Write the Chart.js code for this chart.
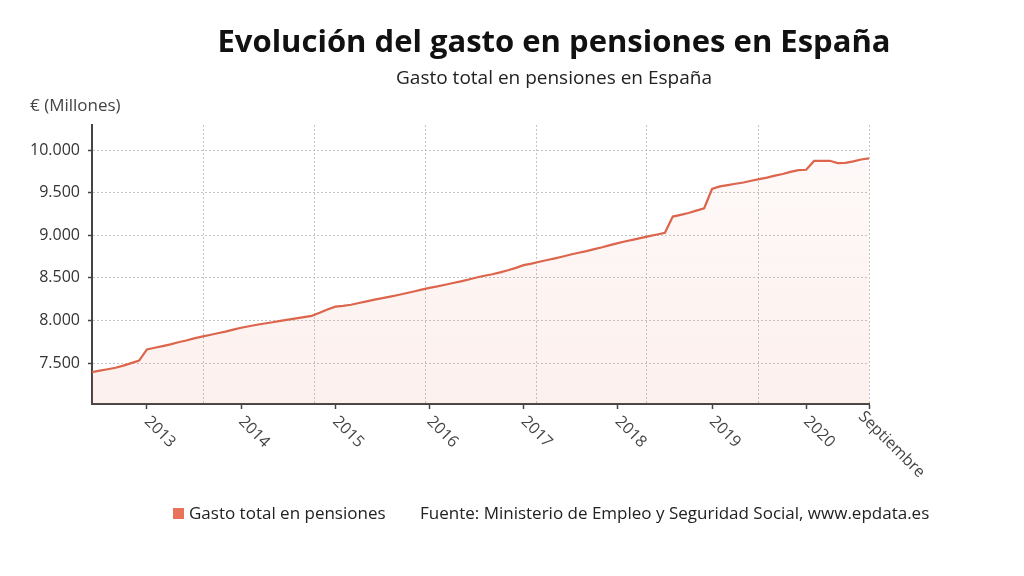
<!DOCTYPE html>
<html><head><meta charset="utf-8">
<script src="https://cdn.jsdelivr.net/npm/chart.js@4"></script>
<style>
html,body{margin:0;padding:0;width:1024px;height:576px;overflow:hidden;background:#fff;font-family:"Open Sans",sans-serif;}
#wrap{position:relative;width:1024px;height:576px;}
canvas{position:absolute;left:0;top:0;}
.t{position:absolute;white-space:nowrap;line-height:1;}
</style></head><body>
<div id="wrap">
<canvas id="c" width="1024" height="576"></canvas>
<div class="t" style="left:554px;top:25px;transform:translateX(-50%);font-size:31px;font-weight:700;color:#111;">Evolución del gasto en pensiones en España</div>
<div class="t" style="left:554px;top:68px;transform:translateX(-50%);font-size:19px;color:#222;">Gasto total en pensiones en España</div>
<div class="t" style="left:30px;top:96px;font-size:17px;color:#444;">€ (Millones)</div>
<div class="t" style="left:173px;top:504px;font-size:17px;color:#222;"><span style="display:inline-block;width:11px;height:11px;background:#e8735a;margin-right:5px;vertical-align:0px;"></span>Gasto total en pensiones</div>
<div class="t" style="left:420px;top:504px;font-size:17px;color:#222;">Fuente: Ministerio de Empleo y Seguridad Social, www.epdata.es</div>
</div>
<script>
// Monthly data, June 2012 - September 2020 (millions of euros)
const startYear = 2012, startMonth = 6;
const gasto2012 = [7394, 7412, 7428, 7445, 7470, 7500, 7530];
const gasto2013 = [7660, 7680, 7700, 7720, 7745, 7765, 7790, 7810, 7830, 7850, 7870, 7893];
const gasto2014 = [7915, 7933, 7950, 7965, 7980, 7995, 8010, 8025, 8040, 8055, 8090, 8130];
const gasto2015 = [8163, 8172, 8185, 8205, 8225, 8245, 8262, 8280, 8300, 8320, 8340, 8362];
const gasto2016 = [8383, 8400, 8420, 8440, 8460, 8482, 8505, 8525, 8543, 8565, 8590, 8618];
const gasto2017 = [8650, 8668, 8690, 8710, 8730, 8752, 8775, 8795, 8815, 8838, 8860, 8885];
const gasto2018 = [8908, 8930, 8950, 8970, 8990, 9010, 9030, 9220, 9240, 9262, 9290, 9318];
const gasto2019 = [9544, 9575, 9590, 9605, 9620, 9640, 9660, 9678, 9700, 9720, 9745, 9765];
const gasto2020 = [9770, 9873, 9875, 9875, 9848, 9850, 9868, 9890, 9904];

const xTickLabels = ['2013', '2014', '2015', '2016', '2017', '2018', '2019', '2020', 'Septiembre'];
const yTicks = [7500, 8000, 8500, 9000, 9500, 10000];
const yMin = 7020, yMax = 10295;
const xGridDivisions = 7;

const gasto = [].concat(gasto2012, gasto2013, gasto2014, gasto2015, gasto2016, gasto2017, gasto2018, gasto2019, gasto2020);
const months = gasto.map((_, i) => {
  const m = startMonth - 1 + i;
  return { year: startYear + Math.floor(m / 12), month: (m % 12) + 1 };
});
const lastIdx = gasto.length - 1;
// tick indices: each January, plus the last month
const xTickIdx = months.map((m, i) => (m.month === 1 ? i : -1)).filter(i => i >= 0).concat([lastIdx]);
const xGridVals = Array.from({length: xGridDivisions + 1}, (_, k) => k * lastIdx / xGridDivisions);
const points = gasto.map((v, i) => ({x: i, y: v}));

const isGrid = v => xGridVals.some(g => Math.abs(g - v) < 1e-6);
const isYear = v => xTickIdx.some(g => Math.abs(g - v) < 1e-6);
const fmt = v => String(v).replace(/\B(?=(\d{3})+(?!\d))/g, '.');

const xLabelsPlugin = {
  id: 'xLabels',
  afterDraw(chart) {
    const sx = chart.scales.x, ctx = chart.ctx;
    ctx.save();
    ctx.font = '16px "Open Sans"';
    ctx.fillStyle = '#444';
    ctx.textAlign = 'left';
    ctx.textBaseline = 'middle';
    xTickIdx.forEach((v, i) => {
      const last = i === xTickIdx.length - 1;
      const px = sx.getPixelForValue(v) + (last ? -8 : 0);
      ctx.save();
      ctx.translate(px, sx.top + (last ? 10 : 15));
      ctx.rotate(Math.PI / 4);
      ctx.fillText(xTickLabels[i], 0, 0);
      ctx.restore();
    });
    ctx.restore();
  }
};

new Chart(document.getElementById('c'), {
  type: 'line',
  data: {
    datasets: [{
      label: 'Gasto total en pensiones',
      data: points,
      borderColor: '#dc654c',
      borderWidth: 2.2,
      pointRadius: 0,
      tension: 0,
      fill: 'start',
      backgroundColor: (c) => {
        const {ctx, chartArea} = c.chart;
        if (!chartArea) return 'rgba(0,0,0,0)';
        const g = ctx.createLinearGradient(0, chartArea.top, 0, chartArea.bottom);
        g.addColorStop(0, 'rgba(232,110,85,0.03)');
        g.addColorStop(1, 'rgba(232,110,85,0.10)');
        return g;
      }
    }]
  },
  options: {
    responsive: false,
    animation: false,
    layout: { padding: { left: 30, right: 155, top: 125, bottom: 167 } },
    plugins: { legend: { display: false }, tooltip: { enabled: false }, title: { display: false } },
    scales: {
      x: {
        type: 'linear', min: 0, max: lastIdx,
        afterBuildTicks: s => {
          const vals = xGridVals.concat(xTickIdx.filter(v => !isGrid(v))).sort((a, b) => a - b);
          s.ticks = vals.map(v => ({value: v}));
        },
        ticks: { display: false },
        grid: {
          color: c => (c.tick && isGrid(c.tick.value)) ? '#c4c4c4' : 'rgba(0,0,0,0)',
          tickColor: c => (c.tick && isYear(c.tick.value)) ? '#444' : 'rgba(0,0,0,0)',
          tickLength: 5, lineWidth: 1, tickWidth: 1.5
        },
        border: { display: true, color: '#444', width: 2, dash: [2, 2] }
      },
      y: {
        min: yMin, max: yMax,
        afterBuildTicks: s => { s.ticks = yTicks.map(v => ({value: v})); },
        afterFit: s => { s.width = 62; },
        ticks: { padding: 8, color: '#333', font: { family: 'Open Sans', size: 16 }, callback: v => fmt(v) },
        grid: { color: '#c4c4c4', lineWidth: 1, tickLength: 4, tickColor: '#444', tickWidth: 1.5 },
        border: { display: true, color: '#444', width: 2, dash: [2, 2] }
      }
    }
  },
  plugins: [xLabelsPlugin]
});
</script>
</body></html>
